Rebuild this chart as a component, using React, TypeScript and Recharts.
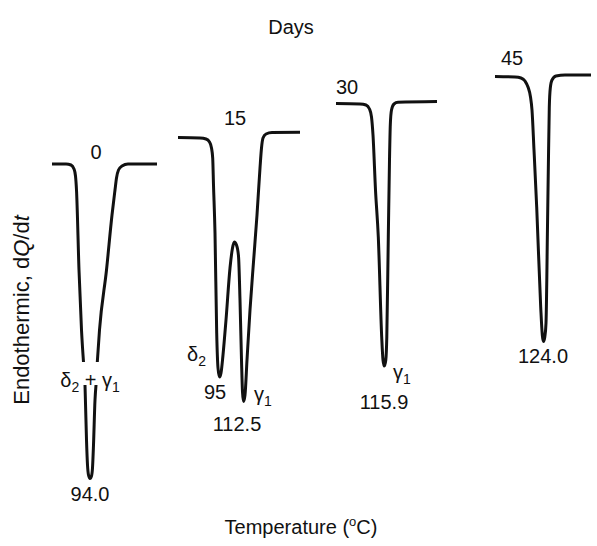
import { LineChart, Line, XAxis, YAxis, Customized } from 'recharts'

// DSC traces, arbitrary temperature units (x) vs. heat flow offset (y, downward = endothermic)
const day0X = [52, 66, 71, 74, 75.5, 76.5, 79, 81.5, 83.5, 84.3, 85, 86.5, 87.5, 88.5, 90, 91.5, 92.5, 93.5, 95, 96, 96.6, 97.3, 99.5, 106.5, 112, 115, 116.5, 118.5, 122, 128, 157]
const day0Y = [164, 164, 165, 169, 176, 190, 270, 330, 362, null, 385, 440, 465, 475, 478.5, 476, 468, 445, 400, 385, null, 362, 330, 270, 215, 190, 178, 170, 166, 164, 164]

const day15X = [178, 200, 206, 209.5, 211.5, 212.7, 213.5, 215, 216.7, 218, 219.5, 221, 223, 226, 230, 232.5, 234.3, 236.5, 238.5, 240, 241.5, 242.5, 243.5, 245, 247, 250, 253.5, 257, 260, 261.5, 263, 266, 272, 300]
const day15Y = [137.5, 138, 139, 142, 148, 158, 185, 233, 333, 368, 377, 373, 355, 320, 268, 248, 242, 245, 256, 300, 360, 392, 401.5, 395, 360, 310, 262, 215, 168, 148, 138, 134, 132.5, 132.3]

const day30X = [336, 360, 366, 369.5, 371.5, 373, 375.5, 378.3, 381.7, 383, 384.3, 385.8, 386.8, 388.3, 389.5, 390.3, 391.5, 394, 398, 437]
const day30Y = [103.5, 104, 105, 109, 117, 135, 190, 237, 337, 360, 366, 360, 337, 237, 160, 125, 110, 104, 102.3, 101.5]

const day45X = [495, 515, 521, 525, 528, 530.5, 532, 534, 536.7, 540.7, 542.3, 543.5, 544.8, 546, 546.8, 547.3, 548.3, 549.3, 550.3, 552, 556, 565, 591]
const day45Y = [76.5, 77, 78, 81, 87, 97, 110, 150, 207, 307, 335, 341.5, 337, 323, 280, 240, 170, 107, 88, 80, 76, 75, 75]

const zip = (xs: number[], ys: (number | null)[]) => xs.map((x, i) => ({ x, y: ys[i] }))

const series = [
  { name: 'day0', data: zip(day0X, day0Y) },
  { name: 'day15', data: zip(day15X, day15Y) },
  { name: 'day30', data: zip(day30X, day30Y) },
  { name: 'day45', data: zip(day45X, day45Y) },
]

const FONT = '"Liberation Sans", Arial, Helvetica, sans-serif'
const INK = '#111'

const Sub = ({ children }: any) => (
  <tspan fontSize={14} dy={5}>{children}</tspan>
)

const Labels = () => (
  <g fontFamily={FONT} fill={INK} fontSize={20}>
    <text x={291} y={34} textAnchor="middle">Days</text>
    <text x={96} y={159} textAnchor="middle">0</text>
    <text x={235} y={125} textAnchor="middle">15</text>
    <text x={347} y={94} textAnchor="middle">30</text>
    <text x={512} y={65} textAnchor="middle">45</text>

    <text x={90} y={387} textAnchor="middle">
      δ<Sub>2</Sub><tspan dy={-5}> + γ</tspan><Sub>1</Sub>
    </text>
    <text x={90} y={501} textAnchor="middle">94.0</text>

    <text x={187} y={361}>δ<Sub>2</Sub></text>
    <text x={215} y={399} textAnchor="middle">95</text>
    <text x={254} y={401}>γ<Sub>1</Sub></text>
    <text x={237} y={431} textAnchor="middle">112.5</text>

    <text x={393} y={379}>γ<Sub>1</Sub></text>
    <text x={384} y={409} textAnchor="middle">115.9</text>

    <text x={543} y={363} textAnchor="middle">124.0</text>

    <text x={301} y={534} textAnchor="middle">
      Temperature (<tspan fontSize={13} dy={-8}>o</tspan><tspan dy={8}>C)</tspan>
    </text>

    <text x={29} y={310} fontSize={22} textAnchor="middle" transform="rotate(-90 29 310)">
      Endothermic, d<tspan fontStyle="italic">Q</tspan>/d<tspan fontStyle="italic">t</tspan>
    </text>
  </g>
)

export default function App() {
  return (
    <div style={{ position: 'absolute', left: 0, top: 0, background: '#fff' }}>
      <LineChart width={597} height={546} margin={{ top: 0, right: 0, bottom: 0, left: 0 }}>
        <XAxis type="number" dataKey="x" domain={[0, 597]} hide allowDataOverflow />
        <YAxis type="number" domain={[0, 546]} reversed hide allowDataOverflow />
        {series.map(s => (
          <Line
            key={s.name}
            data={s.data}
            dataKey="y"
            type="monotone"
            stroke={INK}
            strokeWidth={3}
            dot={false}
            activeDot={false}
            connectNulls={false}
            isAnimationActive={false}
          />
        ))}
        <Customized component={Labels} />
      </LineChart>
    </div>
  )
}
